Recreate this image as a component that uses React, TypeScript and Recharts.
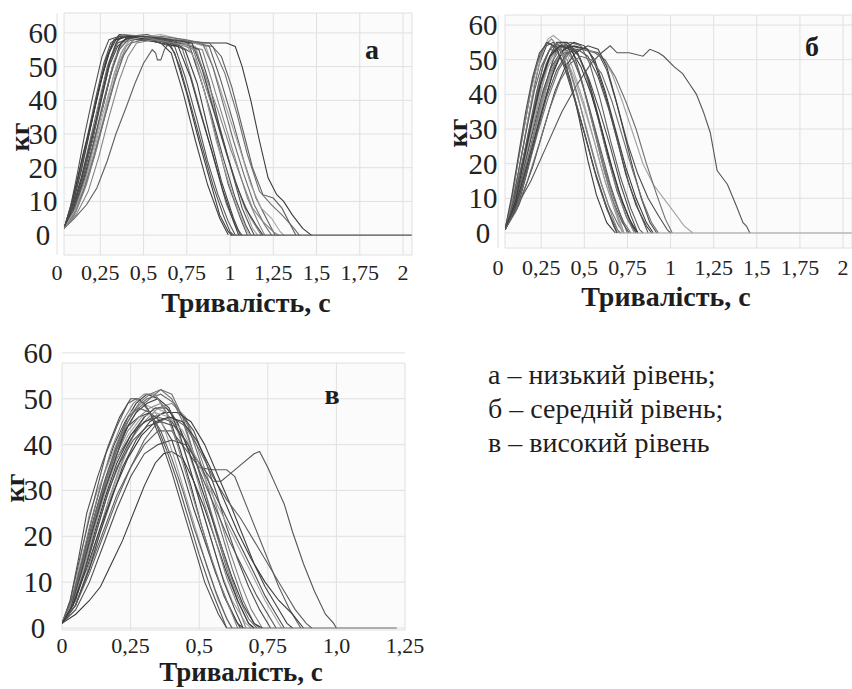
import React from "react";
import { LineChart, Line, XAxis, YAxis, CartesianGrid } from "recharts";

// а – низький рівень: [тривалість, c ; кг]
const curvesA: number[][][] = [
  [[0.04,2],[0.08,8],[0.12,16],[0.17,27],[0.22,38],[0.27,49],[0.32,57],[0.36,59.5],[0.45,59],[0.55,58],[0.64,57],[0.68,54],[0.75,42],[0.82,28],[0.88,17],[0.94,6],[0.99,1],[1.01,0]],
  [[0.04,2],[0.09,8],[0.14,17],[0.19,28],[0.24,39],[0.29,50],[0.34,57],[0.38,59],[0.5,58.5],[0.6,58],[0.72,56],[0.78,46],[0.85,33],[0.92,20],[0.98,9],[1.04,2],[1.07,0]],
  [[0.04,2],[0.1,7],[0.15,15],[0.2,25],[0.26,37],[0.31,48],[0.36,56],[0.41,59],[0.52,59.5],[0.62,58],[0.76,57],[0.82,48],[0.89,36],[0.96,23],[1.03,11],[1.09,3],[1.12,0]],
  [[0.04,2],[0.1,6],[0.16,14],[0.22,25],[0.28,37],[0.33,48],[0.38,55],[0.43,58.5],[0.55,59],[0.66,58],[0.8,56],[0.86,46],[0.93,34],[1.0,21],[1.07,10],[1.13,2],[1.16,0]],
  [[0.04,2],[0.09,7],[0.14,16],[0.2,28],[0.25,40],[0.3,51],[0.35,58],[0.4,59],[0.52,58],[0.63,57.5],[0.74,55],[0.81,45],[0.88,30],[0.95,16],[1.02,5],[1.06,0]],
  [[0.04,2],[0.11,7],[0.17,15],[0.23,26],[0.29,38],[0.35,50],[0.4,56],[0.46,58.5],[0.58,58],[0.7,57],[0.84,55],[0.9,45],[0.97,33],[1.04,21],[1.1,11],[1.17,3],[1.2,0]],
  [[0.04,2],[0.1,8],[0.15,17],[0.21,29],[0.26,41],[0.31,52],[0.35,57],[0.42,58.5],[0.56,59],[0.68,57],[0.78,54],[0.85,43],[0.92,29],[0.99,15],[1.06,5],[1.1,0]],
  [[0.04,2],[0.1,5],[0.17,9],[0.23,14],[0.29,22],[0.34,30],[0.4,38],[0.45,45],[0.5,51],[0.55,55],[0.57,54],[0.58,52],[0.6,52],[0.62,55],[0.66,58],[0.75,57.5],[0.88,56],[0.94,47],[1.01,35],[1.08,22],[1.15,11],[1.22,4],[1.26,0]],
  [[0.04,2],[0.1,8],[0.15,16],[0.21,27],[0.27,39],[0.32,50],[0.37,57],[0.42,59],[0.55,58.5],[0.7,57],[0.85,57],[0.98,57],[1.03,56],[1.07,50],[1.12,40],[1.17,28],[1.22,17],[1.27,12],[1.31,10],[1.36,6],[1.42,2],[1.47,0]],
  [[0.04,2],[0.09,9],[0.13,18],[0.18,29],[0.23,41],[0.28,52],[0.33,58],[0.38,59.5],[0.5,59],[0.62,58],[0.8,57],[0.9,56],[0.97,48],[1.04,36],[1.1,24],[1.17,13],[1.24,9],[1.3,6],[1.37,2],[1.4,0]],
  [[0.04,2],[0.1,7],[0.16,16],[0.22,28],[0.27,40],[0.33,51],[0.37,57],[0.44,58],[0.56,58.5],[0.7,57.5],[0.82,55],[0.88,45],[0.94,32],[1.01,19],[1.07,8],[1.12,2],[1.14,0]],
  [[0.04,2],[0.11,8],[0.17,18],[0.23,30],[0.28,42],[0.33,52],[0.38,57],[0.45,58.5],[0.6,59.5],[0.72,58],[0.86,56],[0.92,47],[0.99,36],[1.06,25],[1.12,15],[1.18,8],[1.24,5],[1.29,1],[1.31,0]],
  [[0.04,2],[0.09,9],[0.14,19],[0.19,31],[0.24,43],[0.29,53],[0.33,58],[0.39,59],[0.5,58],[0.6,57],[0.66,54],[0.73,42],[0.8,28],[0.87,15],[0.94,5],[0.99,0]],
  [[0.04,2],[0.1,6],[0.16,14],[0.22,24],[0.28,36],[0.34,47],[0.39,54],[0.44,58],[0.56,59],[0.68,58],[0.78,56],[0.84,47],[0.91,36],[0.98,24],[1.05,13],[1.12,5],[1.18,0]],
  [[0.04,2],[0.08,8],[0.12,17],[0.17,28],[0.22,40],[0.27,51],[0.31,57],[0.36,59],[0.48,58.5],[0.58,58],[0.68,56],[0.74,47],[0.81,34],[0.87,22],[0.93,12],[0.99,4],[1.03,0]],
  [[0.04,2],[0.1,8],[0.16,17],[0.21,27],[0.26,38],[0.31,48],[0.36,55],[0.41,58],[0.54,59],[0.66,58],[0.88,57],[0.95,53],[1.01,44],[1.07,32],[1.13,20],[1.19,12],[1.25,11],[1.3,8],[1.35,3],[1.38,0]],
  [[0.04,2],[0.07,7],[0.11,15],[0.15,24],[0.2,34],[0.25,45],[0.3,54],[0.34,58],[0.42,59],[0.52,58],[0.6,57],[0.7,56],[0.77,47],[0.83,36],[0.9,24],[0.96,13],[1.02,4],[1.05,0]],
  [[0.04,2],[0.09,6],[0.15,13],[0.21,23],[0.27,34],[0.33,45],[0.38,53],[0.43,57],[0.5,58],[0.6,59],[0.74,58],[0.84,57],[0.9,50],[0.96,39],[1.02,28],[1.08,18],[1.14,9],[1.2,3],[1.24,0]],
  [[0.04,2],[0.08,9],[0.12,19],[0.16,30],[0.21,42],[0.26,53],[0.3,58],[0.36,59],[0.46,58],[0.56,57.5],[0.66,56],[0.71,50],[0.77,39],[0.84,26],[0.9,15],[0.96,6],[1.0,1],[1.02,0]],
  [[0.04,2],[0.1,7],[0.15,14],[0.21,24],[0.26,35],[0.32,46],[0.37,54],[0.42,58],[0.52,59],[0.64,58.5],[0.74,57],[0.8,52],[0.86,41],[0.92,28],[0.99,16],[1.05,7],[1.1,1],[1.12,0]],
  [[0.04,2],[0.09,8],[0.14,17],[0.19,27],[0.25,39],[0.3,50],[0.35,56],[0.4,58.5],[0.5,59],[0.6,58.5],[0.78,57],[0.84,49],[0.9,38],[0.97,26],[1.03,16],[1.09,8],[1.15,3],[1.19,0]],
  [[0.04,2],[0.11,6],[0.18,13],[0.24,23],[0.3,35],[0.36,46],[0.41,53],[0.46,57],[0.56,58],[0.68,57],[0.8,55],[0.86,47],[0.93,37],[1.0,26],[1.07,16],[1.13,8],[1.19,4],[1.25,1],[1.28,0]],
  [[1.0,0],[2.05,0]],
];

// б – середній рівень
const curvesB: number[][][] = [
  [[0.04,1],[0.08,8],[0.12,18],[0.16,29],[0.2,40],[0.24,49],[0.28,54],[0.32,55],[0.37,52],[0.42,44],[0.47,33],[0.52,21],[0.57,11],[0.63,3],[0.68,0]],
  [[0.04,1],[0.09,8],[0.14,19],[0.19,31],[0.23,42],[0.27,50],[0.31,54],[0.35,54.5],[0.4,50],[0.46,40],[0.52,28],[0.58,17],[0.64,8],[0.7,2],[0.73,0]],
  [[0.04,1],[0.1,7],[0.15,16],[0.2,27],[0.25,38],[0.3,47],[0.34,53],[0.38,55],[0.43,53],[0.48,45],[0.54,33],[0.6,21],[0.66,10],[0.72,3],[0.76,0]],
  [[0.04,1],[0.09,9],[0.13,20],[0.17,32],[0.21,43],[0.25,51],[0.29,56],[0.32,57],[0.37,55],[0.43,48],[0.5,37],[0.56,26],[0.62,15],[0.68,6],[0.72,0]],
  [[0.04,1],[0.11,7],[0.16,16],[0.21,26],[0.26,36],[0.31,45],[0.36,51],[0.41,53],[0.46,52],[0.51,46],[0.57,35],[0.63,23],[0.69,12],[0.75,4],[0.8,0]],
  [[0.04,1],[0.1,8],[0.15,18],[0.2,30],[0.25,41],[0.29,49],[0.34,53],[0.39,54],[0.45,53],[0.5,47],[0.56,37],[0.62,25],[0.68,14],[0.74,5],[0.79,0]],
  [[0.04,1],[0.08,10],[0.12,22],[0.16,33],[0.2,44],[0.24,51],[0.28,55],[0.33,54],[0.39,48],[0.45,38],[0.51,27],[0.57,16],[0.63,7],[0.69,0]],
  [[0.04,1],[0.1,8],[0.16,19],[0.22,31],[0.27,42],[0.32,50],[0.37,54],[0.42,55],[0.48,54],[0.53,49],[0.59,39],[0.65,27],[0.71,16],[0.77,7],[0.82,1],[0.84,0]],
  [[0.04,1],[0.11,9],[0.17,20],[0.23,32],[0.28,42],[0.33,49],[0.38,53],[0.44,55],[0.5,54],[0.56,50],[0.62,41],[0.68,30],[0.74,19],[0.8,10],[0.86,3],[0.9,0]],
  [[0.04,1],[0.09,9],[0.14,20],[0.18,30],[0.23,41],[0.28,49],[0.33,53],[0.38,53.5],[0.43,51],[0.49,43],[0.55,32],[0.61,20],[0.67,10],[0.73,3],[0.77,0]],
  [[0.04,1],[0.1,9],[0.15,19],[0.21,31],[0.26,41],[0.31,48],[0.36,52],[0.42,54],[0.5,53],[0.58,52],[0.63,47],[0.69,37],[0.75,26],[0.81,17],[0.87,10],[0.93,5],[0.98,1],[1.0,0]],
  [[0.04,1],[0.1,8],[0.16,18],[0.22,30],[0.27,40],[0.32,48],[0.37,52],[0.44,53],[0.52,53],[0.6,51],[0.66,46],[0.72,38],[0.78,29],[0.84,20],[0.9,14],[0.96,10],[1.02,6],[1.08,2],[1.13,0]],
  [[0.04,1],[0.09,9],[0.14,20],[0.19,31],[0.24,42],[0.29,50],[0.34,55],[0.4,55],[0.46,52],[0.52,45],[0.58,34],[0.64,22],[0.7,12],[0.76,4],[0.81,0]],
  [[0.04,1],[0.1,7],[0.15,16],[0.2,27],[0.25,38],[0.3,46],[0.35,51],[0.4,52],[0.45,49],[0.5,41],[0.56,29],[0.62,17],[0.68,7],[0.73,0]],
  [[0.04,1],[0.1,7],[0.19,15],[0.28,25],[0.37,35],[0.46,43],[0.54,49],[0.6,52],[0.65,54],[0.69,52],[0.76,52],[0.84,51],[0.88,53],[0.93,52],[0.96,51],[1.02,48],[1.07,46],[1.11,43],[1.15,40],[1.19,35],[1.23,29],[1.27,18],[1.3,16],[1.33,14],[1.38,8],[1.42,3],[1.44,2],[1.46,0]],
  [[0.04,1],[0.09,10],[0.13,21],[0.17,31],[0.21,41],[0.25,48],[0.3,53],[0.35,52],[0.4,47],[0.45,38],[0.51,27],[0.57,16],[0.63,7],[0.69,1],[0.71,0]],
  [[0.04,1],[0.1,8],[0.16,18],[0.22,29],[0.28,40],[0.33,48],[0.38,53],[0.44,54],[0.52,53],[0.56,49],[0.62,40],[0.68,29],[0.74,17],[0.8,8],[0.86,2],[0.89,0]],
  [[0.04,1],[0.11,8],[0.17,18],[0.23,29],[0.29,39],[0.35,47],[0.41,52],[0.48,53],[0.56,52],[0.62,50],[0.68,45],[0.74,38],[0.8,30],[0.86,20],[0.92,11],[0.97,4],[1.01,0]],
  [[0.04,1],[0.1,9],[0.15,20],[0.2,32],[0.25,43],[0.3,51],[0.35,54],[0.41,54],[0.47,51],[0.53,44],[0.59,35],[0.65,25],[0.71,14],[0.77,5],[0.81,0]],
  [[0.04,1],[0.09,8],[0.14,18],[0.19,29],[0.24,40],[0.29,48],[0.34,52],[0.39,51],[0.44,45],[0.5,36],[0.56,26],[0.62,15],[0.68,6],[0.73,0]],
  [[0.04,1],[0.12,8],[0.2,19],[0.27,31],[0.33,41],[0.39,48],[0.45,52],[0.52,54],[0.58,53],[0.63,48],[0.68,39],[0.73,29],[0.78,19],[0.83,10],[0.88,3],[0.92,0]],
  [[0.04,1],[0.08,9],[0.11,19],[0.15,30],[0.19,41],[0.23,49],[0.27,54],[0.31,56],[0.36,53],[0.42,46],[0.48,36],[0.54,25],[0.6,14],[0.66,5],[0.7,0]],
  [[0.04,1],[0.1,7],[0.16,17],[0.22,28],[0.28,39],[0.34,47],[0.4,52],[0.46,53],[0.52,51],[0.58,45],[0.64,36],[0.7,25],[0.76,14],[0.82,6],[0.87,0]],
  [[0.04,1],[0.09,8],[0.13,18],[0.18,30],[0.22,40],[0.26,48],[0.3,53],[0.35,55],[0.41,53],[0.47,46],[0.53,36],[0.59,25],[0.65,14],[0.71,5],[0.75,0]],
  [[0.04,1],[0.1,9],[0.15,21],[0.2,33],[0.25,44],[0.3,51],[0.36,54],[0.42,53],[0.48,48],[0.54,40],[0.6,30],[0.66,19],[0.72,9],[0.78,2],[0.81,0]],
  [[0.04,1],[0.1,6],[0.17,15],[0.24,26],[0.3,36],[0.36,44],[0.42,49],[0.48,51],[0.54,50],[0.6,46],[0.66,38],[0.72,28],[0.78,18],[0.84,9],[0.89,3],[0.93,0]],
  [[0.04,1],[0.08,11],[0.12,23],[0.16,35],[0.2,45],[0.24,52],[0.29,55],[0.34,53],[0.39,47],[0.44,39],[0.5,29],[0.56,18],[0.62,9],[0.67,2],[0.69,0]],
  [[0.7,0],[2.05,0]],
];

// в – високий рівень
const curvesC: number[][][] = [
  [[0,1],[0.03,5],[0.07,14],[0.11,24],[0.15,33],[0.19,40],[0.23,45],[0.27,49],[0.31,51],[0.35,50],[0.39,46],[0.43,39],[0.47,31],[0.51,22],[0.55,14],[0.59,7],[0.63,2],[0.65,0]],
  [[0,1],[0.04,5],[0.08,13],[0.12,22],[0.16,31],[0.2,38],[0.24,44],[0.28,48],[0.32,50],[0.36,52],[0.4,51],[0.44,46],[0.48,38],[0.52,30],[0.56,21],[0.6,13],[0.64,6],[0.68,1],[0.7,0]],
  [[0,1],[0.03,6],[0.06,15],[0.09,25],[0.13,33],[0.17,40],[0.21,46],[0.25,50],[0.28,50],[0.32,47],[0.36,41],[0.4,34],[0.44,26],[0.48,18],[0.52,10],[0.57,3],[0.6,0]],
  [[0,1],[0.05,5],[0.1,13],[0.14,21],[0.18,29],[0.22,36],[0.26,42],[0.3,46],[0.34,48],[0.38,47],[0.42,43],[0.46,36],[0.5,28],[0.54,20],[0.58,12],[0.62,6],[0.67,1],[0.69,0]],
  [[0,1],[0.04,6],[0.08,14],[0.12,23],[0.16,32],[0.2,39],[0.24,44],[0.28,46],[0.32,47],[0.36,45],[0.4,41],[0.44,34],[0.48,26],[0.52,19],[0.56,12],[0.6,6],[0.64,1],[0.66,0]],
  [[0,1],[0.05,5],[0.09,12],[0.13,20],[0.17,28],[0.21,35],[0.25,41],[0.3,45],[0.35,48],[0.4,49],[0.45,46],[0.49,40],[0.53,33],[0.57,25],[0.61,17],[0.65,10],[0.69,4],[0.73,0]],
  [[0,1],[0.04,6],[0.08,14],[0.12,23],[0.16,31],[0.2,37],[0.25,42],[0.3,45],[0.35,46],[0.4,45],[0.45,41],[0.5,36],[0.55,32],[0.58,32],[0.62,34],[0.66,36],[0.7,38],[0.72,38.5],[0.75,35],[0.78,31],[0.81,27],[0.84,21],[0.88,14],[0.92,8],[0.96,3],[0.99,1],[1.0,0]],
  [[0,1],[0.05,5],[0.1,13],[0.15,21],[0.2,29],[0.25,35],[0.3,40],[0.35,43],[0.4,43],[0.45,39],[0.5,35],[0.55,34.5],[0.6,34.5],[0.63,33],[0.67,27],[0.71,21],[0.75,15],[0.79,9],[0.83,4],[0.87,0]],
  [[0,1],[0.05,3],[0.1,6],[0.14,9],[0.18,14],[0.22,19],[0.26,25],[0.3,31],[0.34,36],[0.37,38],[0.4,38.5],[0.44,37],[0.48,32],[0.52,26],[0.56,19],[0.6,12],[0.64,6],[0.68,1],[0.7,0]],
  [[0,1],[0.03,5],[0.07,13],[0.11,22],[0.15,31],[0.19,38],[0.23,44],[0.27,48],[0.31,50],[0.36,51],[0.41,49],[0.46,44],[0.5,37],[0.54,29],[0.58,21],[0.62,13],[0.66,6],[0.7,1],[0.72,0]],
  [[0,1],[0.04,5],[0.08,12],[0.12,20],[0.16,28],[0.2,35],[0.24,40],[0.28,44],[0.33,46],[0.38,47],[0.43,47],[0.48,43],[0.52,37],[0.56,30],[0.6,22],[0.64,15],[0.68,9],[0.72,4],[0.76,0]],
  [[0,1],[0.04,7],[0.07,16],[0.1,25],[0.13,30],[0.17,36],[0.21,42],[0.25,47],[0.29,49],[0.33,48],[0.37,44],[0.41,37],[0.45,29],[0.49,21],[0.53,13],[0.57,6],[0.61,1],[0.62,0]],
  [[0,1],[0.05,5],[0.1,13],[0.14,21],[0.18,28],[0.22,35],[0.27,41],[0.32,45],[0.37,47],[0.42,47],[0.47,45],[0.52,40],[0.57,33],[0.62,26],[0.66,20],[0.7,14],[0.74,9],[0.78,5],[0.82,1],[0.84,0]],
  [[0,1],[0.04,6],[0.08,14],[0.12,23],[0.16,31],[0.2,38],[0.24,43],[0.28,46],[0.32,48],[0.36,49],[0.4,47],[0.44,42],[0.48,35],[0.52,27],[0.56,19],[0.6,11],[0.64,5],[0.67,0]],
  [[0,1],[0.03,6],[0.06,14],[0.1,24],[0.13,31],[0.16,38],[0.2,44],[0.24,49],[0.27,50],[0.3,49],[0.34,45],[0.38,39],[0.42,32],[0.46,24],[0.5,16],[0.54,9],[0.58,3],[0.6,0]],
  [[0,1],[0.05,5],[0.1,12],[0.15,20],[0.2,28],[0.25,35],[0.3,41],[0.35,45],[0.4,46],[0.45,44],[0.5,39],[0.55,33],[0.6,28],[0.65,24],[0.7,19],[0.75,14],[0.8,9],[0.85,4],[0.89,1],[0.91,0]],
  [[0,1],[0.04,5],[0.08,12],[0.12,21],[0.16,29],[0.2,36],[0.25,42],[0.3,46],[0.34,48],[0.38,48],[0.42,45],[0.46,39],[0.5,32],[0.54,25],[0.58,18],[0.62,11],[0.66,5],[0.7,1],[0.73,0]],
  [[0,1],[0.04,6],[0.08,15],[0.12,24],[0.16,32],[0.2,39],[0.24,45],[0.28,49],[0.32,51],[0.36,52],[0.4,50],[0.44,45],[0.48,38],[0.52,30],[0.56,22],[0.6,14],[0.64,7],[0.68,2],[0.71,0]],
  [[0,1],[0.05,4],[0.1,10],[0.15,18],[0.2,26],[0.25,33],[0.3,38],[0.35,40],[0.4,41],[0.45,40],[0.5,36],[0.55,30],[0.6,24],[0.65,18],[0.7,12],[0.74,7],[0.78,3],[0.81,0]],
  [[0,1],[0.04,6],[0.08,13],[0.12,22],[0.16,30],[0.2,37],[0.24,42],[0.29,46],[0.34,47],[0.39,46],[0.44,43],[0.49,37],[0.54,30],[0.59,24],[0.64,18],[0.69,12],[0.74,6],[0.78,2],[0.8,0]],
  [[0,1],[0.03,4],[0.07,12],[0.11,21],[0.15,29],[0.19,36],[0.23,43],[0.27,47],[0.31,49],[0.35,50],[0.39,48],[0.43,42],[0.47,34],[0.51,26],[0.55,18],[0.59,10],[0.63,4],[0.66,0]],
  [[0,1],[0.03,5],[0.06,12],[0.1,22],[0.14,31],[0.18,39],[0.22,45],[0.26,49],[0.3,51],[0.34,51],[0.38,47],[0.42,40],[0.46,32],[0.5,24],[0.54,16],[0.58,9],[0.62,3],[0.64,0]],
  [[0,1],[0.05,6],[0.09,14],[0.13,22],[0.17,30],[0.21,36],[0.26,41],[0.31,44],[0.36,45],[0.41,44],[0.46,40],[0.51,33],[0.56,26],[0.61,19],[0.66,13],[0.71,7],[0.76,2],[0.78,0]],
  [[0,1],[0.04,7],[0.08,16],[0.12,25],[0.16,33],[0.2,40],[0.24,46],[0.28,48],[0.32,47],[0.36,43],[0.4,37],[0.44,30],[0.48,22],[0.52,15],[0.56,8],[0.6,2],[0.62,0]],
  [[0,1],[0.04,5],[0.09,13],[0.14,22],[0.19,30],[0.24,37],[0.29,42],[0.34,45],[0.39,46],[0.44,45],[0.49,41],[0.54,35],[0.59,28],[0.64,21],[0.69,15],[0.74,10],[0.79,6],[0.84,3],[0.88,0]],
  [[0.6,0],[1.22,0]],
];

const kgTicks = [0, 10, 20, 30, 40, 50, 60];
const timeTicksAB = [0, 0.25, 0.5, 0.75, 1, 1.25, 1.5, 1.75, 2];
const timeLabelsAB = ["0", "0,25", "0,5", "0,75", "1", "1,25", "1,5", "1,75", "2"];
const timeTicksC = [0, 0.25, 0.5, 0.75, 1, 1.25];
const timeLabelsC = ["0", "0,25", "0,5", "0,75", "1,0", "1,25"];
const legendLines = ["а – низький рівень;", "б – середній рівень;", "в – високий рівень"];

const greys = ["#3a3a3a", "#6e6e6e", "#4c4c4c", "#a2a2a2", "#424242", "#858585", "#555555", "#5f5f5f"];
const SERIF = "'Liberation Serif', 'Times New Roman', serif";

type PanelProps = {
  curves: number[][][];
  left: number;
  top: number;
  width: number;
  height: number;
  margin: { top: number; right: number; bottom: number; left: number };
  yAxisWidth: number;
  xAxisHeight: number;
  xDomain: [number, number];
  yDomain: [number, number];
  xTicks: number[];
  xLabels: string[];
  yLabelX: number;
  xLabelDy: number;
};

const Panel = (p: PanelProps) => {
  const xTick = (props: any) => {
    const i = p.xTicks.indexOf(props.payload.value);
    return (
      <text x={props.x} y={props.y} dy={p.xLabelDy} textAnchor="middle" dominantBaseline="central"
        style={{ fontFamily: SERIF, fontSize: 22 }} fill="#222">
        {p.xLabels[i]}
      </text>
    );
  };
  const yTick = (props: any) => (
    <text x={p.yLabelX} y={props.y} textAnchor="middle" dominantBaseline="central"
      style={{ fontFamily: SERIF, fontSize: 29 }} fill="#222">
      {props.payload.value}
    </text>
  );
  return (
    <div style={{ position: "absolute", left: p.left, top: p.top }}>
      <LineChart width={p.width} height={p.height} margin={p.margin}>
        <CartesianGrid stroke="#e0e0e0" strokeWidth={1} fill="#fbfbfb" />
        <XAxis type="number" dataKey="t" domain={p.xDomain} ticks={p.xTicks} allowDataOverflow
          axisLine={false} tickLine={false} tickSize={0} tickMargin={0} height={p.xAxisHeight}
          tick={xTick} interval={0} />
        <YAxis type="number" dataKey="kg" domain={p.yDomain} ticks={kgTicks} allowDataOverflow
          axisLine={false} tickLine={false} tickSize={0} tickMargin={0} width={p.yAxisWidth}
          tick={yTick} interval={0} />
        {p.curves.map((c, i) => (
          <Line key={i} data={c.map(([t, kg]) => ({ t, kg }))} dataKey="kg" type="linear"
            stroke={greys[i % greys.length]} strokeWidth={1.1} dot={false} isAnimationActive={false} />
        ))}
      </LineChart>
    </div>
  );
};

const Txt = ({ x, y, size, bold, rotate, children }: any) => (
  <div style={{
    position: "absolute", left: x, top: y, whiteSpace: "nowrap",
    transform: `translate(-50%, -50%)${rotate ? " rotate(-90deg)" : ""}`,
    fontFamily: SERIF, fontSize: size, fontWeight: bold ? 700 : 400, color: "#1e1e1e", lineHeight: 1,
  }}>{children}</div>
);

export default function App() {
  return (
    <div style={{ position: "relative", width: 852, height: 689, background: "#fff", overflow: "hidden" }}>
      <style>{"body{margin:0}"}</style>
      <Panel curves={curvesA} left={0} top={0} width={430} height={320}
        margin={{ top: 13, right: 18, bottom: 0, left: 0 }} yAxisWidth={64} xAxisHeight={65}
        xDomain={[0.04, 2.052]} yDomain={[-5.9, 65.9]} xTicks={timeTicksAB} xLabels={timeLabelsAB}
        yLabelX={43} xLabelDy={17} />
      <Panel curves={curvesB} left={430} top={0} width={422} height={320}
        margin={{ top: 15, right: 0, bottom: 0, left: 0 }} yAxisWidth={75} xAxisHeight={72}
        xDomain={[0.04, 2.052]} yDomain={[-4.33, 62.9]} xTicks={timeTicksAB} xLabels={timeLabelsAB}
        yLabelX={53} xLabelDy={19} />
      <Panel curves={curvesC} left={0} top={320} width={430} height={369}
        margin={{ top: 43, right: 25, bottom: 0, left: 0 }} yAxisWidth={62} xAxisHeight={59}
        xDomain={[0, 1.25]} yDomain={[-0.44, 57.8]} xTicks={timeTicksC} xLabels={timeLabelsC}
        yLabelX={38} xLabelDy={15} />

      <Txt x={246} y={303} size={28} bold>Тривалість, с</Txt>
      <Txt x={666} y={297} size={28} bold>Тривалість, с</Txt>
      <Txt x={241} y={672} size={27} bold>Тривалість, с</Txt>
      <Txt x={20} y={137} size={28} bold rotate>кг</Txt>
      <Txt x={458} y={133} size={28} bold rotate>кг</Txt>
      <Txt x={15} y={488} size={28} bold rotate>кг</Txt>
      <Txt x={372} y={50} size={28} bold>а</Txt>
      <Txt x={812} y={47} size={28} bold>б</Txt>
      <Txt x={332} y={395} size={28} bold>в</Txt>

      <div style={{ position: "absolute", left: 488, top: 358, fontFamily: SERIF, fontSize: 28, lineHeight: "34px", color: "#1e1e1e" }}>
        {legendLines.map((l) => <div key={l}>{l}</div>)}
      </div>
    </div>
  );
}
